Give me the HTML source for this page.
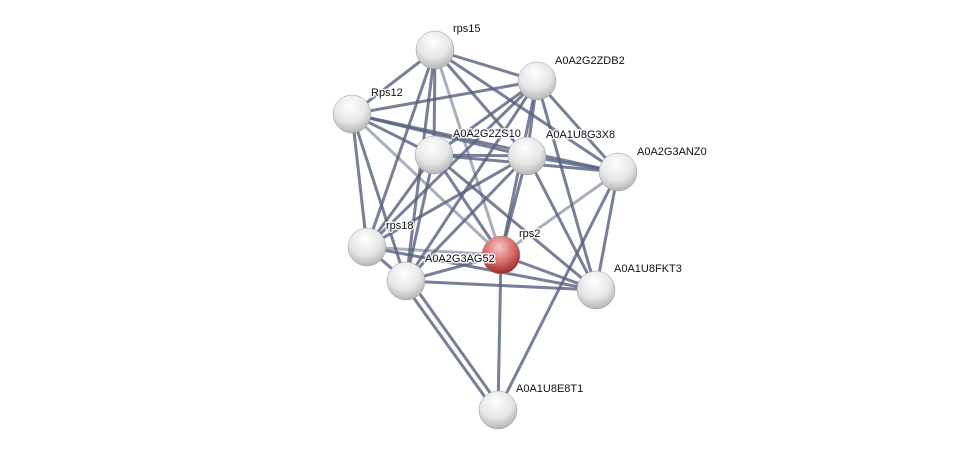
<!DOCTYPE html>
<html><head><meta charset="utf-8"><style>
html,body{margin:0;padding:0;background:#fff;width:976px;height:455px;overflow:hidden}
text{font-family:"Liberation Sans",sans-serif;font-size:11px;fill:#111;stroke:#fff;stroke-opacity:0.85;stroke-width:3px;paint-order:stroke;stroke-linejoin:round}
</style></head><body>
<svg width="976" height="455" xmlns="http://www.w3.org/2000/svg">
<defs>
<radialGradient id="w" cx="45%" cy="30%" r="70%">
<stop offset="0" stop-color="#ffffff"/><stop offset="0.6" stop-color="#e6e6e6"/><stop offset="1" stop-color="#b5b5b5"/></radialGradient>
<radialGradient id="r" cx="45%" cy="30%" r="70%">
<stop offset="0" stop-color="#f5c8c8"/><stop offset="0.55" stop-color="#d86d6d"/><stop offset="1" stop-color="#9e2a2a"/></radialGradient>
</defs>
<g stroke="#56607e" stroke-width="3" stroke-opacity="0.8" fill="none">
<line x1="435" y1="50" x2="352" y2="114"/>
<line x1="435" y1="50" x2="434" y2="155"/>
<line x1="435" y1="50" x2="527" y2="156"/>
<line x1="435" y1="50" x2="618" y2="172"/>
<line x1="435" y1="50" x2="367" y2="247"/>
<line x1="435" y1="50" x2="406" y2="281"/>
<line x1="435" y1="50" x2="501" y2="255" stroke-opacity="0.5"/>
<line x1="435" y1="50" x2="537" y2="81"/>
<line x1="352" y1="114" x2="537" y2="81"/>
<line x1="352" y1="114" x2="434" y2="155"/>
<line x1="352" y1="114" x2="527" y2="156"/>
<line x1="352" y1="114" x2="618" y2="172"/>
<line x1="352" y1="114" x2="367" y2="247"/>
<line x1="352" y1="114" x2="406" y2="281"/>
<line x1="352" y1="114" x2="501" y2="255" stroke-opacity="0.5"/>
<line x1="537" y1="81" x2="434" y2="155"/>
<line x1="537" y1="81" x2="527" y2="156"/>
<line x1="537" y1="81" x2="618" y2="172"/>
<line x1="537" y1="81" x2="367" y2="247"/>
<line x1="537" y1="81" x2="406" y2="281"/>
<line x1="537" y1="81" x2="501" y2="255"/>
<line x1="537" y1="81" x2="596" y2="290"/>
<line x1="434" y1="155" x2="527" y2="156"/>
<line x1="434" y1="155" x2="618" y2="172"/>
<line x1="434" y1="155" x2="367" y2="247"/>
<line x1="434" y1="155" x2="406" y2="281"/>
<line x1="434" y1="155" x2="501" y2="255"/>
<line x1="434" y1="155" x2="596" y2="290"/>
<line x1="527" y1="156" x2="618" y2="172"/>
<line x1="527" y1="156" x2="367" y2="247"/>
<line x1="527" y1="156" x2="406" y2="281"/>
<line x1="527" y1="156" x2="501" y2="255"/>
<line x1="527" y1="156" x2="596" y2="290"/>
<line x1="618" y1="172" x2="501" y2="255" stroke-opacity="0.5"/>
<line x1="618" y1="172" x2="596" y2="290"/>
<line x1="618" y1="172" x2="498" y2="410"/>
<line x1="367" y1="247" x2="501" y2="255" stroke-opacity="0.5"/>
<line x1="367" y1="247" x2="406" y2="281"/>
<line x1="367" y1="247" x2="596" y2="290"/>
<line x1="501" y1="255" x2="406" y2="281"/>
<line x1="501" y1="255" x2="596" y2="290"/>
<line x1="501" y1="255" x2="498" y2="410"/>
<line x1="406" y1="281" x2="596" y2="290"/>
<line x1="403" y1="283" x2="495" y2="411"/>
<line x1="410" y1="280" x2="501" y2="408"/>
</g>
<g stroke="#999" stroke-width="0.5">
<circle cx="435" cy="50" r="19" fill="url(#w)"/>
<circle cx="537" cy="81" r="19" fill="url(#w)"/>
<circle cx="352" cy="114" r="19" fill="url(#w)"/>
<circle cx="434" cy="155" r="19" fill="url(#w)"/>
<circle cx="527" cy="156" r="19" fill="url(#w)"/>
<circle cx="618" cy="172" r="19" fill="url(#w)"/>
<circle cx="367" cy="247" r="19" fill="url(#w)"/>
<circle cx="406" cy="281" r="19" fill="url(#w)"/>
<circle cx="596" cy="290" r="19" fill="url(#w)"/>
<circle cx="498" cy="410" r="19" fill="url(#w)"/>
<circle cx="501" cy="255" r="19" fill="url(#r)"/>
</g>
<text x="453" y="32">rps15</text>
<text x="555" y="64">A0A2G2ZDB2</text>
<text x="371" y="96">Rps12</text>
<text x="453" y="137">A0A2G2ZS10</text>
<text x="546" y="138">A0A1U8G3X8</text>
<text x="637" y="155">A0A2G3ANZ0</text>
<text x="386" y="229">rps18</text>
<text x="519" y="237">rps2</text>
<text x="425" y="262">A0A2G3AG52</text>
<text x="614" y="272">A0A1U8FKT3</text>
<text x="516" y="392">A0A1U8E8T1</text>
</svg>
</body></html>
